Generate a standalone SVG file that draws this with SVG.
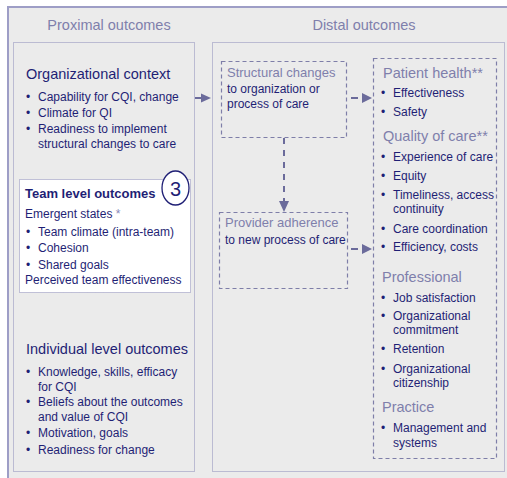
<svg xmlns="http://www.w3.org/2000/svg" width="507" height="478" viewBox="0 0 507 478">
<defs>
<style>
text{font-family:"Liberation Sans",Arial,Helvetica,sans-serif;fill:#1f1f75}
.h{font-size:14.5px;fill:#7f7fab}
.hd{font-size:14.5px;fill:#1f1f75}
.t{font-size:12px}
.s{font-size:13px;fill:#7f7fab}
.b{font-size:12px}
.dot{fill:none;stroke:#8a8ab8;stroke-width:1;stroke-dasharray:1 1}
.dash{fill:none;stroke:#7e7ea8;stroke-width:1.2;stroke-dasharray:4 3}
.arr{fill:#6b6b9b}
</style>
</defs>
<rect x="0" y="0" width="507" height="478" fill="#ffffff"/>
<rect x="8" y="7" width="520" height="500" fill="#ebebeb" stroke="#9e9ec6" stroke-width="2"/>

<g id="proximal">
<rect class="dot" x="13.5" y="42.5" width="181" height="429"/>
<text class="h" x="109" y="30" text-anchor="middle">Proximal outcomes</text>
</g>
<g id="distal">
<rect class="dot" x="212.5" y="42.5" width="292" height="429"/>
<text class="h" x="364" y="30" text-anchor="middle">Distal outcomes</text>
</g>

<g id="org-context">
<text class="hd" x="26" y="79">Organizational context</text>
<text class="t" x="26" y="101">•</text><text class="t" x="38" y="101">Capability for CQI, change</text>
<text class="t" x="26" y="117">•</text><text class="t" x="38" y="117">Climate for QI</text>
<text class="t" x="26" y="133">•</text><text class="t" x="38" y="133">Readiness to implement</text>
<text class="t" x="38" y="148">structural changes to care</text>
</g>

<g id="team">
<rect x="19.5" y="179.5" width="171" height="113" fill="#ffffff" stroke="#8a8ab8" stroke-dasharray="1 1"/>
<text x="25" y="198" font-size="13px" font-weight="bold">Team level outcomes</text>
<ellipse cx="175.5" cy="188" rx="13.5" ry="17" fill="#ffffff" stroke="#1f1f75" stroke-width="1.3"/>
<text x="175.5" y="196" font-size="20px" text-anchor="middle" fill="#111">3</text>
<text class="t" x="25" y="218">Emergent states <tspan fill="#8a8ab8">*</tspan></text>
<text class="t" x="26" y="236">•</text><text class="t" x="38" y="236">Team climate (intra-team)</text>
<text class="t" x="26" y="252">•</text><text class="t" x="38" y="252">Cohesion</text>
<text class="t" x="26" y="269">•</text><text class="t" x="38" y="269">Shared goals</text>
<text class="t" x="25" y="284">Perceived team effectiveness</text>
</g>

<g id="individual">
<text class="hd" x="26" y="354">Individual level outcomes</text>
<text class="t" x="26" y="376">•</text><text class="t" x="38" y="376">Knowledge, skills, efficacy</text>
<text class="t" x="38" y="391">for CQI</text>
<text class="t" x="26" y="406">•</text><text class="t" x="38" y="406">Beliefs about the outcomes</text>
<text class="t" x="38" y="421">and value of CQI</text>
<text class="t" x="26" y="437">•</text><text class="t" x="38" y="437">Motivation, goals</text>
<text class="t" x="26" y="454">•</text><text class="t" x="38" y="454">Readiness for change</text>
</g>

<g id="structural">
<rect class="dash" x="221.5" y="61.5" width="125" height="76"/>
<text class="s" x="227" y="77">Structural changes</text>
<text class="t" x="227" y="93">to organization or</text>
<text class="t" x="227" y="108">process of care</text>
</g>

<g id="provider">
<rect class="dash" x="219.5" y="212.5" width="128" height="76"/>
<text class="s" x="225" y="227">Provider adherence</text>
<text class="t" x="225" y="244">to new process of care</text>
</g>

<g id="outcomes">
<rect class="dash" x="373.5" y="58.5" width="123" height="400"/>
<text class="h" x="383" y="78">Patient health**</text>
<text class="t" x="381" y="97">•</text><text class="t" x="393" y="97">Effectiveness</text>
<text class="t" x="381" y="116">•</text><text class="t" x="393" y="116">Safety</text>
<text class="h" x="383" y="141">Quality of care**</text>
<text class="t" x="381" y="161">•</text><text class="t" x="393" y="161">Experience of care</text>
<text class="t" x="381" y="180">•</text><text class="t" x="393" y="180">Equity</text>
<text class="t" x="381" y="199">•</text><text class="t" x="393" y="199">Timeliness, access</text>
<text class="t" x="393" y="213">continuity</text>
<text class="t" x="381" y="233">•</text><text class="t" x="393" y="233">Care coordination</text>
<text class="t" x="381" y="251">•</text><text class="t" x="393" y="251">Efficiency, costs</text>
<text class="h" x="382" y="282">Professional</text>
<text class="t" x="381" y="302">•</text><text class="t" x="393" y="302">Job satisfaction</text>
<text class="t" x="381" y="320">•</text><text class="t" x="393" y="320">Organizational</text>
<text class="t" x="393" y="334">commitment</text>
<text class="t" x="381" y="353">•</text><text class="t" x="393" y="353">Retention</text>
<text class="t" x="381" y="373">•</text><text class="t" x="393" y="373">Organizational</text>
<text class="t" x="393" y="387">citizenship</text>
<text class="h" x="382" y="412">Practice</text>
<text class="t" x="381" y="432">•</text><text class="t" x="393" y="432">Management and</text>
<text class="t" x="393" y="447">systems</text>
</g>

<g id="connectors">
<line x1="195" y1="98" x2="202" y2="98" stroke="#6b6b9b" stroke-width="2"/>
<polygon class="arr" points="201,93.5 211,98 201,102.5"/>
<line x1="351" y1="98" x2="358" y2="98" stroke="#6b6b9b" stroke-width="2"/>
<polygon class="arr" points="362,93 372,98 362,103"/>
<line x1="351" y1="249" x2="358" y2="249" stroke="#6b6b9b" stroke-width="2"/>
<polygon class="arr" points="362,244 372,249 362,254"/>
<line x1="284" y1="138" x2="284" y2="201" stroke="#6b6b9b" stroke-width="2" stroke-dasharray="6 6"/>
<polygon class="arr" points="279,201 289,201 284,212"/>
</g>
</svg>
